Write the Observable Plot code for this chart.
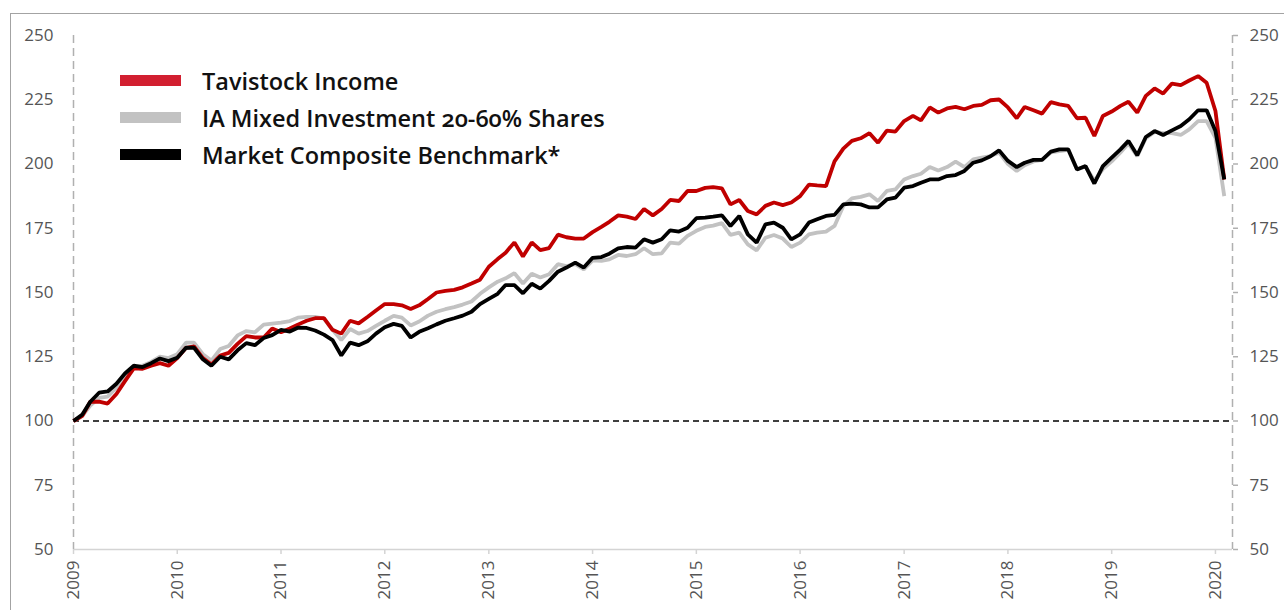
<!DOCTYPE html>
<html><head><meta charset="utf-8">
<script src="https://cdn.jsdelivr.net/npm/d3@7"></script>
<script src="https://cdn.jsdelivr.net/npm/@observablehq/plot@0.6"></script>
<style>
html,body{margin:0;padding:0;background:#fff;overflow:hidden;}
#wrap{position:relative;width:1284px;height:610px;overflow:hidden;}
#chart{position:absolute;left:0;top:0;}
#frame{position:absolute;left:10px;top:13px;width:1400px;height:700px;border-left:1.5px solid #a3a3a3;border-top:1.5px solid #a3a3a3;pointer-events:none;}
#legend{position:absolute;left:120px;top:62px;font-family:"Open Sans",Lato,sans-serif;font-size:23.5px;font-weight:600;color:#111;font-variant-numeric:oldstyle-nums;}
.row{display:flex;align-items:center;height:37px;white-space:nowrap;}
.sw{width:61px;height:11px;margin-right:21px;flex:none;}
</style></head>
<body><div id="wrap"><div id="chart"></div><div id="frame"></div><div id="legend"></div></div>
<script>
// ---- data (monthly, starting January 2009) ----
const startYear = 2009;
const startMonth = 0;

const tavistock = [
  100, 102, 107.5, 107.5, 106.8, 110.5, 115.5, 120.5, 120.3, 121.5, 122.5, 121.5,
  124.5, 128.5, 129, 124.5, 122, 125.5, 126.5, 130, 133, 132.5, 132.5, 136,
  134.5, 136, 137.5, 139, 140, 140, 135.5, 134, 139, 138, 140.5, 143,
  145.5, 145.5, 145, 143.6, 145, 147.5, 150, 150.6, 151, 152, 153.5, 155,
  160, 163, 165.5, 169.5, 164, 169.5, 166.5, 167.3, 172.5, 171.5, 171, 171,
  173.5, 175.5, 177.5, 180, 179.5, 178.6, 182.5, 180, 182.5, 186, 185.6, 189.5,
  189.5, 190.7, 191, 190.5, 184.3, 186, 181.7, 180.4, 183.7, 185, 184, 185,
  187.5, 192, 191.7, 191.4, 201, 206, 209, 210, 212, 208.3, 213, 212.6,
  216.7, 218.7, 217, 222, 220, 221.6, 222.2, 221.3, 222.6, 223, 224.8, 225.1,
  222, 217.8, 222.2, 220.9, 219.6, 224.1, 223.2, 222.6, 217.8, 218, 210.9, 218.7,
  220.4, 222.6, 224.2, 220, 226.5, 229.4, 227.4, 231.3, 230.7, 232.5, 234.2, 231.6,
  220.6, 194
];

const iaMixed = [
  100, 102, 106, 109, 109.5, 113, 118, 121, 121.5, 123, 125, 124.5,
  126, 130.5, 130.5, 126, 123.5, 128, 129.2, 133.3, 135, 134.5, 137.5, 137.9,
  138.3, 138.9, 140.2, 140.5, 140.5, 139.8, 135.5, 131.5, 135.8, 134, 135, 137,
  139, 140.9, 140.2, 137.2, 138.7, 141, 142.5, 143.5, 144.3, 145.3, 146.5, 149.5,
  152, 154.2, 155.5, 157.5, 153.5, 157.3, 155.8, 157.1, 161, 160.3, 161, 159,
  162.5, 162.3, 162.9, 164.6, 164.2, 164.9, 167.2, 164.9, 165.2, 169.4, 169, 172,
  174, 175.5, 176, 177, 172.4, 173.3, 168.7, 166.4, 171.3, 172.4, 171, 167.7,
  169.4, 172.6, 173.3, 173.7, 175.9, 183.7, 186.6, 187.2, 188.2, 185.6, 189.5, 190.1,
  194, 195.3, 196.2, 198.8, 197.5, 198.8, 200.9, 198.8, 201.8, 202.5, 203.1, 204.4,
  200, 197.3, 199.5, 201, 201.6, 204.5, 205, 205.5, 198, 199, 193.5, 198,
  201, 204.5, 208, 203, 210, 212.5, 212, 212, 211.3, 213.5, 216.7, 216.7,
  210.2, 187.5
];

const benchmark = [
  100, 102.5, 107.5, 111, 111.5, 114.5, 118.5, 121.5, 121, 122.5, 124.3, 123.3,
  124.6, 128.5, 128.5, 124, 121.5, 125, 124, 127.5, 130.3, 129.5, 132.3, 133.4,
  135.5, 134.8, 136.3, 136.2, 135.2, 133.6, 131.5, 125.5, 130.5, 129.5, 131, 134,
  136.5, 137.8, 137, 132.5, 134.7, 136.1, 137.6, 139, 140, 141, 142.5, 145.5,
  147.5, 149.5, 152.9, 152.9, 149.7, 153.4, 151.5, 154.5, 158.1, 159.7, 161.6, 159.7,
  163.5, 163.8, 165.1, 167.2, 167.7, 167.5, 170.7, 169.4, 170.7, 174.2, 173.7, 175.2,
  178.9, 179.1, 179.5, 180, 175.9, 179.8, 172.6, 169.4, 176.5, 177.2, 175.2, 170.7,
  172.6, 177.2, 178.5, 179.8, 180.2, 184.3, 184.6, 184.3, 183.1, 183.1, 186.2, 186.9,
  190.8, 191.4, 192.7, 194, 194, 195.3, 195.7, 197.3, 200.5, 201.4, 203, 205.3,
  201.2, 198.8, 200.5, 201.6, 201.6, 204.8, 205.7, 205.7, 197.9, 199.2, 192.4, 199.2,
  202.5, 205.7, 209, 203.4, 210.5, 212.8, 211.3, 213.1, 214.8, 217.4, 220.9, 220.9,
  212.8, 194
];

const seriesNames = ["Tavistock Income", "IA Mixed Investment 20-60% Shares", "Market Composite Benchmark*"];
const lineColors = ["#c00000", "#c2c2c2", "#000000"];
const legendColors = ["#d21f30", "#c2c2c2", "#000000"];
const yTicks = [50, 75, 100, 125, 150, 175, 200, 225, 250];
const xTickYears = [2009, 2010, 2011, 2012, 2013, 2014, 2015, 2016, 2017, 2018, 2019, 2020];
const baseline = 100;

// ---- build table ----
const seriesValues = [tavistock, iaMixed, benchmark];
const rows = [];
const drawOrder = [1, 0, 2];
for (const s of drawOrder) {
  seriesValues[s].forEach((v, i) => {
    rows.push({series: seriesNames[s], date: new Date(Date.UTC(startYear, startMonth + i, 1)), value: v});
  });
}
const xStart = new Date(Date.UTC(2009, 0, 1));
const xEnd = new Date(Date.UTC(2020, 2, 1));
const xTicks = xTickYears.map(y => new Date(Date.UTC(y, 0, 1)));

const chart = Plot.plot({
  width: 1284,
  height: 610,
  marginLeft: 73,
  marginRight: 52,
  marginTop: 35,
  marginBottom: 61,
  style: {fontFamily: "'Open Sans', sans-serif", fontSize: "17px", background: "transparent", color: "#555"},
  x: {type: "utc", domain: [xStart, xEnd]},
  y: {domain: [50, 250]},
  color: {domain: seriesNames, range: lineColors},
  marks: [
    Plot.ruleY([50], {stroke: "#d4d4d4", strokeWidth: 1.5}),
    Plot.ruleX([xStart], {stroke: "#b0b0b0", strokeWidth: 1.5, strokeDasharray: "8,5"}),
    Plot.ruleX([xEnd], {stroke: "#b0b0b0", strokeWidth: 1.5, strokeDasharray: "8,5"}),
    Plot.axisY({anchor: "left", ticks: yTicks, tickSize: 0, tickPadding: 20, fill: "#555", label: null}),
    Plot.axisY({anchor: "right", ticks: yTicks, tickSize: 5, tickPadding: 12, stroke: "#b0b0b0", strokeWidth: 1.5, fill: "#555", label: null}),
    Plot.axisX({ticks: xTicks, tickFormat: d3.utcFormat("%Y"), tickRotate: -90, tickSize: 5, tickPadding: 6, stroke: "#d4d4d4", strokeWidth: 1.5, fill: "#555", label: null}),
    Plot.ruleY([baseline], {stroke: "#000", strokeWidth: 1.5, strokeDasharray: "6,4"}),
    Plot.line(rows, {x: "date", y: "value", z: "series", stroke: "series", strokeWidth: 3.8, strokeLinejoin: "miter", strokeLinecap: "butt"})
  ]
});
document.getElementById("chart").appendChild(chart);

// ---- legend ----
const legend = document.getElementById("legend");
seriesNames.forEach((name, i) => {
  const row = document.createElement("div");
  row.className = "row";
  const sw = document.createElement("div");
  sw.className = "sw";
  sw.style.background = legendColors[i];
  const t = document.createElement("span");
  t.textContent = name;
  row.appendChild(sw);
  row.appendChild(t);
  legend.appendChild(row);
});
</script>
</body></html>
